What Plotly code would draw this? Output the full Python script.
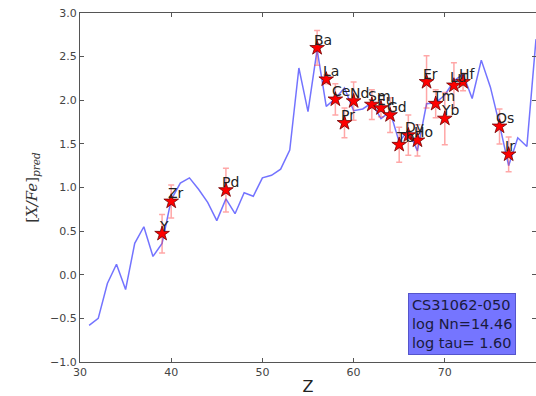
import plotly.graph_objects as go

# Model prediction (blue line)
model_z = list(range(31, 81))
model_val = [-0.58, -0.50, -0.10, 0.12, -0.17, 0.36, 0.55, 0.21, 0.36, 0.86,
             1.05, 1.11, 0.98, 0.83, 0.62, 0.87, 0.70, 0.94, 0.90, 1.11,
             1.14, 1.21, 1.43, 2.37, 1.87, 2.58, 1.93, 2.02, 2.14, 1.88,
             1.90, 1.97, 1.79, 1.87, 1.52, 1.66, 1.42, 1.96, 1.97, 2.06,
             2.22, 2.30, 2.02, 2.46, 2.15, 1.72, 1.25, 1.57, 1.47, 2.70]

# Observed abundances (red stars)
elements = ["Y", "Zr", "Pd", "Ba", "La", "Ce", "Pr", "Nd", "Sm", "Eu", "Gd",
            "Tb", "Dy", "Ho", "Er", "Tm", "Yb", "Lu", "Hf", "Os", "Ir"]
obs_z = [39, 40, 46, 56, 57, 58, 59, 60, 62, 63, 64,
         65, 66, 67, 68, 69, 70, 71, 72, 76, 77]
obs_val = [0.47, 0.84, 0.97, 2.60, 2.24, 2.01, 1.74, 1.99, 1.95, 1.91, 1.83,
           1.49, 1.60, 1.54, 2.21, 1.96, 1.79, 2.17, 2.21, 1.70, 1.38]
obs_err = [0.22, 0.19, 0.25, 0.20, 0.05, 0.18, 0.17, 0.22, 0.17, 0.10, 0.20,
           0.20, 0.23, 0.18, 0.30, 0.16, 0.30, 0.26, 0.10, 0.20, 0.20]

x_ticks = [30, 40, 50, 60, 70, 80]
y_ticks = [-1.0, -0.5, 0.0, 0.5, 1.0, 1.5, 2.0, 2.5, 3.0]

fig = go.Figure()
fig.add_trace(go.Scatter(
    x=model_z, y=model_val, mode="lines",
    line=dict(color="rgba(40,40,255,0.65)", width=1.5),
    showlegend=False))
fig.add_trace(go.Scatter(
    x=obs_z, y=obs_val, mode="markers",
    marker=dict(symbol="star", size=11, color="red",
                line=dict(color="#700000", width=0.8)),
    error_y=dict(type="data", array=obs_err, color="rgba(255,60,60,0.45)",
                 thickness=1.5, width=3),
    showlegend=False))

for el, z, v in zip(elements, obs_z, obs_val):
    fig.add_annotation(x=z - 0.5, y=v - 0.01, text=el, showarrow=False,
                       xanchor="left", yanchor="bottom",
                       font=dict(family="DejaVu Sans", size=14, color="#222"),
                       borderpad=0)

fig.add_annotation(
    xref="paper", yref="paper", x=0.72, y=0.02, xanchor="left", yanchor="bottom",
    text="CS31062-050<br>log Nn=14.46<br>log tau= 1.60",
    showarrow=False, align="left",
    font=dict(family="DejaVu Sans", size=14.5, color="#1a1a40"),
    bgcolor="rgba(110,110,255,0.95)", bordercolor="#5555cc", borderwidth=1,
    borderpad=3)

axis_common = dict(showgrid=False, zeroline=False, showline=True,
                   linecolor="#555", linewidth=1, mirror="ticks",
                   ticks="inside", ticklen=4, tickcolor="#555",
                   tickfont=dict(family="DejaVu Sans", size=11, color="#444"))

fig.update_xaxes(range=[30, 80], tickvals=x_ticks,
                 ticktext=[str(t) for t in x_ticks],
                 title=dict(text="Z", font=dict(family="DejaVu Sans", size=16, color="#222"),
                            standoff=4),
                 **axis_common)
fig.update_yaxes(range=[-1.0, 3.0], tickvals=y_ticks,
                 ticktext=[f"{t:.1f}".replace("-", "\u2212") for t in y_ticks],
                 title=dict(text="[<i>X/Fe</i>]<sub><i>pred</i></sub>",
                            font=dict(family="DejaVu Serif", size=15, color="#333"),
                            standoff=8),
                 **axis_common)

fig.update_layout(width=536, height=396,
                  margin=dict(l=80, r=0, t=13, b=34),
                  plot_bgcolor="white", paper_bgcolor="white")

fig.write_html("out.html")
